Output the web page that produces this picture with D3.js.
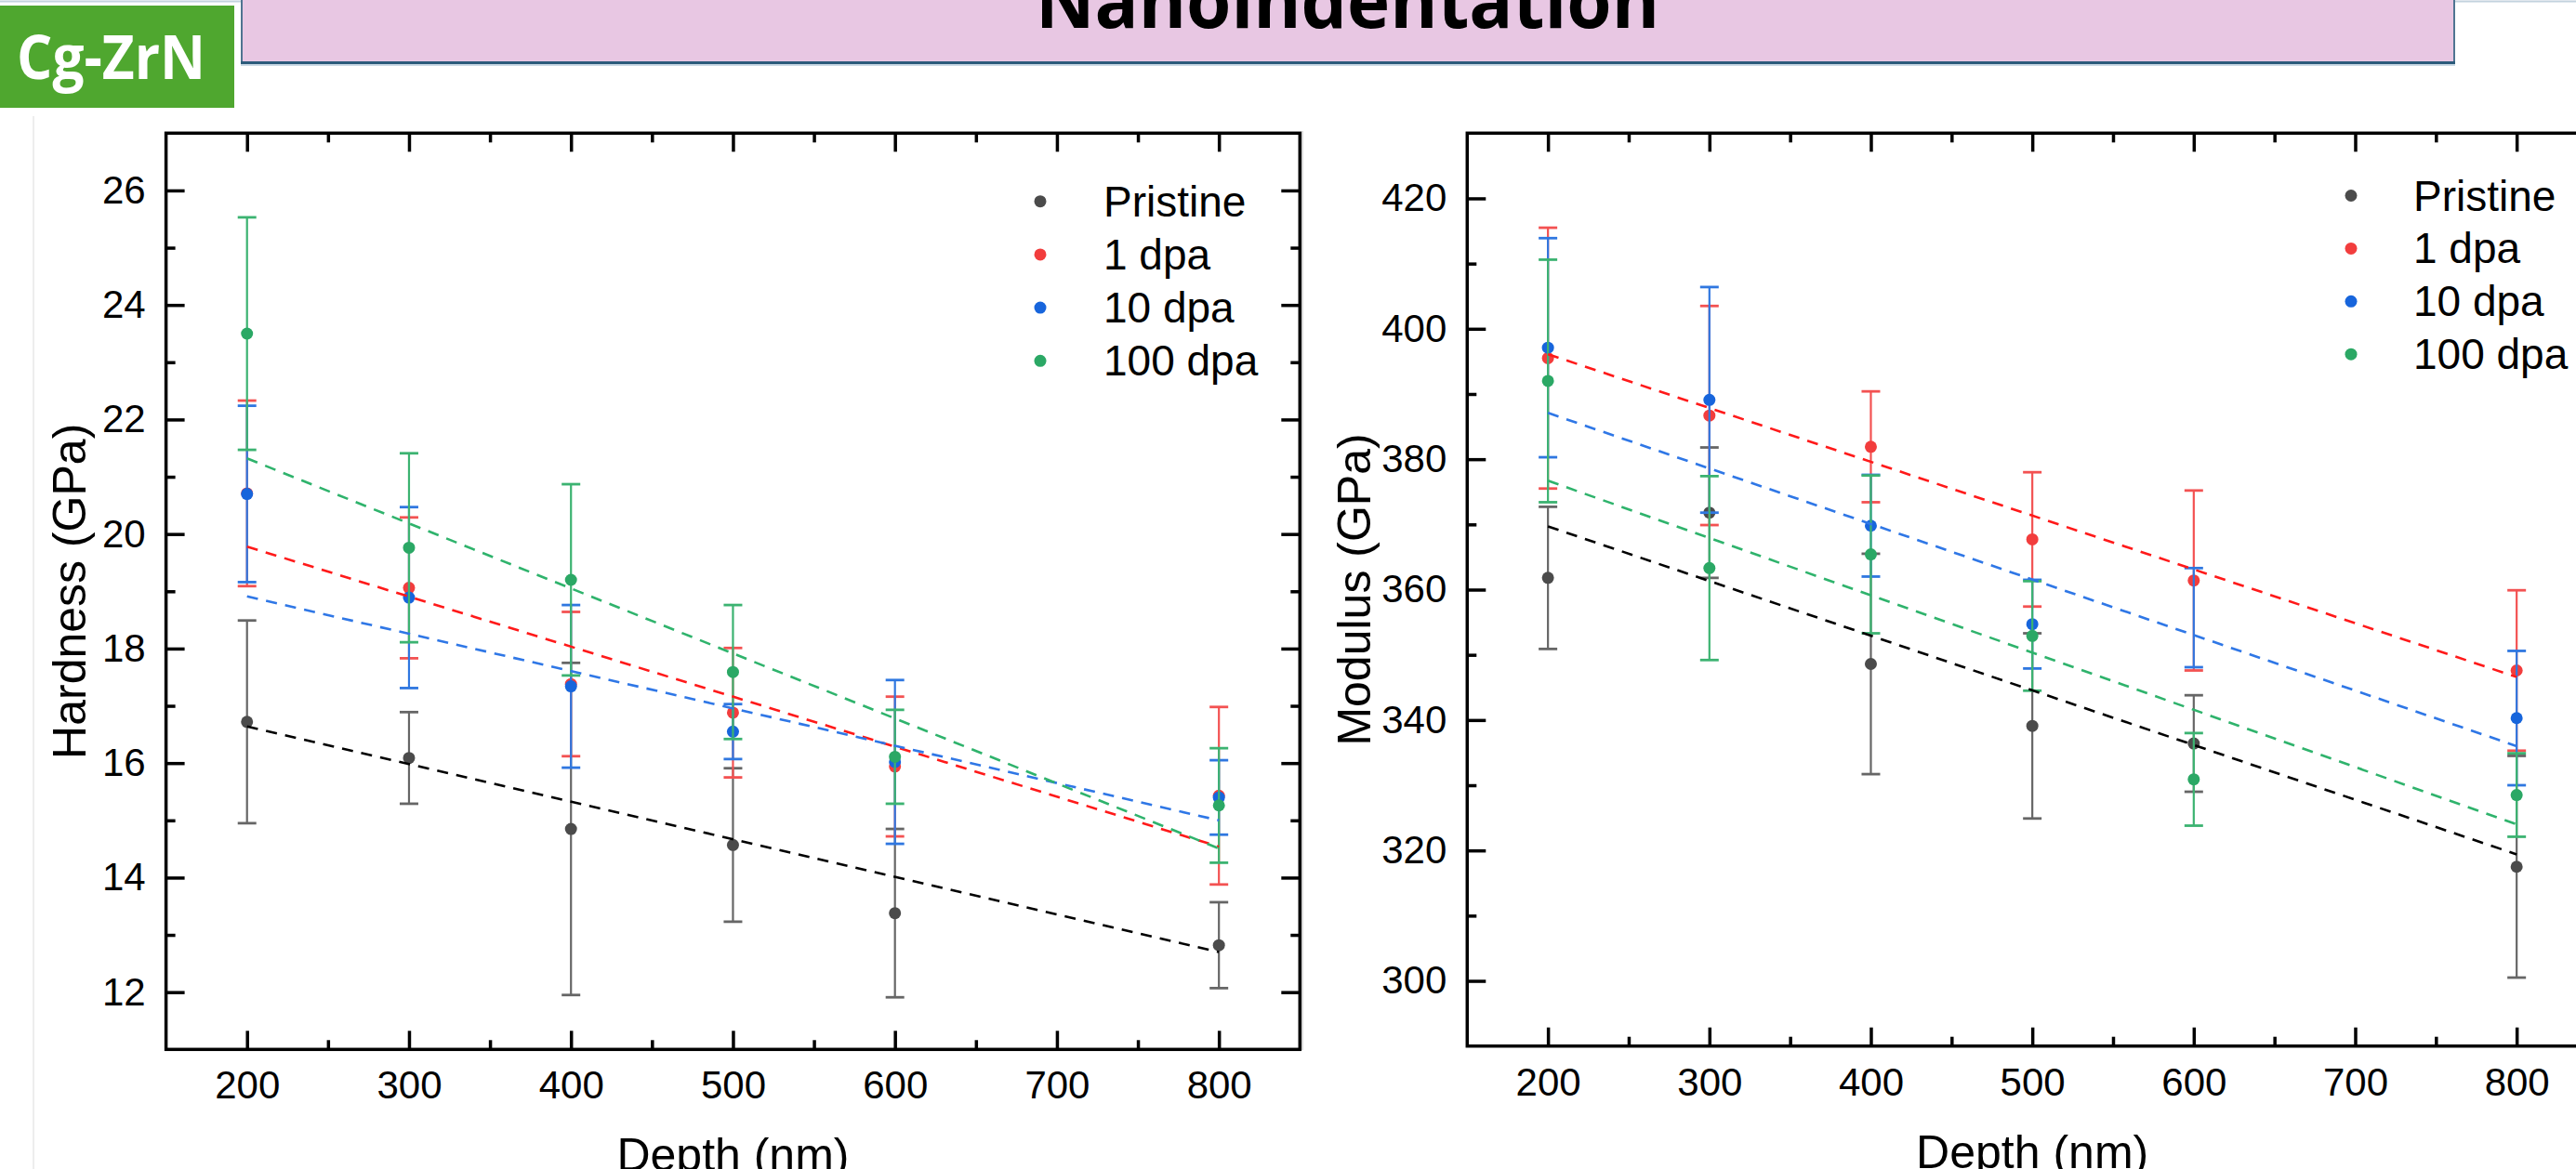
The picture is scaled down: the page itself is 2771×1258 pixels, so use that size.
<!DOCTYPE html>
<html>
<head>
<meta charset="utf-8">
<script src="https://cdn.jsdelivr.net/npm/d3@7"></script>
<style>
  html, body { margin: 0; padding: 0; background: #fff; overflow: hidden; }
  svg { display: block; }
</style>
</head>
<body>
<div id="chart"></div>
<script>
// data
const depths = [200, 300, 400, 500, 600, 800]
const seriesNames = ['Pristine', '1 dpa', '10 dpa', '100 dpa']

// one row per series, same order as seriesNames
const hardnessValues = [
  [16.72, 16.09, 14.85, 14.57, 13.38, 12.82],
  [20.71, 19.06, 17.38, 16.88, 15.94, 15.43],
  [20.70, 18.89, 17.34, 16.55, 16.02, 15.40],
  [23.50, 19.76, 19.20, 17.59, 16.11, 15.26]
]
const hardnessErrors = [
  [1.77, 0.80, 2.90, 1.34, 1.47, 0.75],
  [1.62, 1.23, 1.26, 1.13, 1.22, 1.55],
  [1.54, 1.58, 1.42, 0.48, 1.43, 0.65],
  [2.03, 1.65, 1.67, 1.17, 0.82, 1.00]
]
const modulusValues = [
  [361.8, 371.8, 348.6, 339.1, 336.4, 317.5],
  [395.5, 386.7, 381.9, 367.7, 361.4, 347.6],
  [397.1, 389.1, 369.8, 354.7, 355.7, 340.3],
  [392.0, 363.3, 365.4, 352.9, 330.9, 328.5]
]
const modulusErrors = [
  [10.9, 10.0, 16.9, 14.2, 7.4, 17.0],
  [20.0, 16.8, 8.5, 10.3, 13.8, 12.3],
  [16.8, 17.3, 7.8, 6.8, 7.6, 10.3],
  [18.6, 14.1, 12.1, 8.4, 7.1, 6.4]
]
// linear fits, value at fitEnds[0] and fitEnds[1]
const fitEnds = [200, 800]
const hardnessFit = [[16.64, 12.70], [19.78, 14.54], [18.91, 15.00], [21.32, 14.51]]
const modulusFit = [[369.7, 319.4], [396.1, 346.6], [387.1, 336.0], [376.7, 324.0]]
// symbol missing in the original: [series index, depth index]
const modulusHidden = [[2, 4]]

// ticks
const xTicks = [200, 300, 400, 500, 600, 700, 800]
const xMinorTicks = [250, 350, 450, 550, 650, 750]
const hardnessTicks = [12, 14, 16, 18, 20, 22, 24, 26]
const hardnessMinorTicks = [13, 15, 17, 19, 21, 23, 25]
const modulusTicks = [300, 320, 340, 360, 380, 400, 420]
const modulusMinorTicks = [310, 330, 350, 370, 390, 410]

// styles
const pointColors = ['#4b4b4b', '#f23d3d', '#1765dc', '#2ba865']
const barColors = ['#666666', '#f35252', '#2f77e0', '#3cb371']
const fitColors = ['#000000', '#ff1a1a', '#2f77e6', '#2fb36c']
const font = "'Liberation Sans', Arial, sans-serif"

const width = 2771
const height = 1258

const svg = d3.select('#chart')
  .append('svg')
  .attr('width', width)
  .attr('height', height)

// slide decoration
svg.append('line')
  .attr('x1', 0).attr('x2', width).attr('y1', 1.5).attr('y2', 1.5)
  .attr('stroke', '#c3d2de').attr('stroke-width', 2)
svg.append('line')
  .attr('x1', 36).attr('x2', 36).attr('y1', 125).attr('y2', height)
  .attr('stroke', '#ededed').attr('stroke-width', 2)
svg.append('line')
  .attr('x1', 1401).attr('x2', 1401).attr('y1', 141).attr('y2', 1130)
  .attr('stroke', '#dcdcdc').attr('stroke-width', 2)

svg.append('rect')
  .attr('x', 0).attr('y', 6).attr('width', 252).attr('height', 110)
  .attr('fill', '#4fa72f')
svg.append('text')
  .attr('x', 18).attr('y', 85)
  .attr('font-family', "'Open Sans', 'Noto Sans', sans-serif")
  .attr('font-weight', 700)
  .attr('font-size', 67)
  .attr('textLength', 203)
  .attr('lengthAdjust', 'spacingAndGlyphs')
  .attr('fill', '#fff')
  .text('Cg-ZrN')

svg.append('rect')
  .attr('x', 260).attr('y', -10).attr('width', 2380).attr('height', 77)
  .attr('fill', '#e8c7e3')
  .attr('stroke', '#4f7491').attr('stroke-width', 2)
svg.append('line')
  .attr('x1', 259).attr('x2', 2641).attr('y1', 67.5).attr('y2', 67.5)
  .attr('stroke', '#2c5b7b').attr('stroke-width', 3)
svg.append('line')
  .attr('x1', 259).attr('x2', 2641).attr('y1', 70).attr('y2', 70)
  .attr('stroke', '#b9cddb').attr('stroke-width', 1.5)
svg.append('text')
  .attr('x', 1114).attr('y', 30)
  .attr('font-family', "'Open Sans', 'Noto Sans', sans-serif")
  .attr('font-weight', 700)
  .attr('font-size', 80)
  .attr('textLength', 671)
  .attr('lengthAdjust', 'spacingAndGlyphs')
  .attr('fill', '#000')
  .text('Nanoindentation')

const panels = [
  {
    left: 178.6, right: 1398.3, top: 143.3, bottom: 1129.3,
    yDomain: [11, 27],
    values: hardnessValues, errors: hardnessErrors, fits: hardnessFit, hidden: [],
    ticks: hardnessTicks, minorTicks: hardnessMinorTicks,
    title: 'Hardness (GPa)', titleX: 92,
    legend: { x: 1119, y: 216.7, tx: 1187, step: 57.2 }
  },
  {
    left: 1578.3, right: 2794, top: 143.3, bottom: 1125.7,
    yDomain: [290, 430],
    values: modulusValues, errors: modulusErrors, fits: modulusFit, hidden: modulusHidden,
    ticks: modulusTicks, minorTicks: modulusMinorTicks,
    title: 'Modulus (GPa)', titleX: 1474,
    legend: { x: 2529, y: 210.5, tx: 2596, step: 56.9 }
  }
]

function styleAxis (g, withText) {
  g.select('.domain').remove()
  g.selectAll('.tick line').attr('stroke', '#000').attr('stroke-width', 3.5)
  g.attr('font-family', font).attr('font-size', 42)
  g.selectAll('.tick text').attr('fill', '#000')
  if (!withText) g.selectAll('.tick text').remove()
}

function drawPanel (p) {
  const x = d3.scaleLinear().domain([150, 850]).range([p.left, p.right])
  const y = d3.scaleLinear().domain(p.yDomain).range([p.bottom, p.top])
  const g = svg.append('g')

  // axes, ticks pointing inward on all four sides
  g.append('g')
    .attr('transform', `translate(0,${p.bottom})`)
    .call(d3.axisBottom(x).tickValues(xTicks).tickSize(-20).tickSizeOuter(0).tickPadding(23))
    .call(s => styleAxis(s, true))
  g.append('g')
    .attr('transform', `translate(0,${p.bottom})`)
    .call(d3.axisBottom(x).tickValues(xMinorTicks).tickSize(-10).tickSizeOuter(0).tickFormat(''))
    .call(s => styleAxis(s, false))
  g.append('g')
    .attr('transform', `translate(0,${p.top})`)
    .call(d3.axisTop(x).tickValues(xTicks).tickSize(-20).tickSizeOuter(0))
    .call(s => styleAxis(s, false))
  g.append('g')
    .attr('transform', `translate(0,${p.top})`)
    .call(d3.axisTop(x).tickValues(xMinorTicks).tickSize(-10).tickSizeOuter(0))
    .call(s => styleAxis(s, false))
  g.append('g')
    .attr('transform', `translate(${p.left},0)`)
    .call(d3.axisLeft(y).tickValues(p.ticks).tickSize(-20).tickSizeOuter(0).tickPadding(22))
    .call(s => styleAxis(s, true))
  g.append('g')
    .attr('transform', `translate(${p.left},0)`)
    .call(d3.axisLeft(y).tickValues(p.minorTicks).tickSize(-10).tickSizeOuter(0))
    .call(s => styleAxis(s, false))
  g.append('g')
    .attr('transform', `translate(${p.right},0)`)
    .call(d3.axisRight(y).tickValues(p.ticks).tickSize(-20).tickSizeOuter(0))
    .call(s => styleAxis(s, false))
  g.append('g')
    .attr('transform', `translate(${p.right},0)`)
    .call(d3.axisRight(y).tickValues(p.minorTicks).tickSize(-10).tickSizeOuter(0))
    .call(s => styleAxis(s, false))

  g.append('rect')
    .attr('x', p.left).attr('y', p.top)
    .attr('width', p.right - p.left).attr('height', p.bottom - p.top)
    .attr('fill', 'none').attr('stroke', '#000').attr('stroke-width', 3.5)

  // titles
  g.append('text')
    .attr('transform', `translate(${p.titleX},${(p.top + p.bottom) / 2}) rotate(-90)`)
    .attr('text-anchor', 'middle')
    .attr('font-family', font).attr('font-size', 50)
    .text(p.title)
  g.append('text')
    .attr('x', x(500)).attr('y', p.bottom + 131)
    .attr('text-anchor', 'middle')
    .attr('font-family', font).attr('font-size', 50)
    .text('Depth (nm)')

  // error bars and symbols, later series on top
  seriesNames.forEach((name, si) => {
    const rows = depths.map((d, di) => ({
      d, v: p.values[si][di], e: p.errors[si][di],
      hide: p.hidden.some(h => h[0] === si && h[1] === di)
    }))
    const sg = g.append('g').attr('class', 'series')
    const bars = sg.selectAll('g.bar').data(rows).enter().append('g').attr('class', 'bar')
      .attr('stroke', barColors[si]).attr('stroke-width', 2.2)
    bars.append('line')
      .attr('x1', r => x(r.d)).attr('x2', r => x(r.d))
      .attr('y1', r => y(r.v - r.e)).attr('y2', r => y(r.v + r.e))
    bars.append('line')
      .attr('x1', r => x(r.d) - 10).attr('x2', r => x(r.d) + 10)
      .attr('y1', r => y(r.v + r.e)).attr('y2', r => y(r.v + r.e))
      .attr('stroke-width', 2.8)
    bars.append('line')
      .attr('x1', r => x(r.d) - 10).attr('x2', r => x(r.d) + 10)
      .attr('y1', r => y(r.v - r.e)).attr('y2', r => y(r.v - r.e))
      .attr('stroke-width', 2.8)
    sg.selectAll('circle').data(rows.filter(r => !r.hide)).enter().append('circle')
      .attr('cx', r => x(r.d)).attr('cy', r => y(r.v)).attr('r', 6.5)
      .attr('fill', pointColors[si])
  })

  // dashed linear fits
  seriesNames.forEach((name, si) => {
    g.append('path')
      .datum(fitEnds.map((d, i) => [d, p.fits[si][i]]))
      .attr('d', d3.line().x(q => x(q[0])).y(q => y(q[1])))
      .attr('fill', 'none')
      .attr('stroke', fitColors[si])
      .attr('stroke-width', 2.6)
      .attr('stroke-dasharray', '12 9')
  })

  // legend
  const lg = g.append('g')
  seriesNames.forEach((name, si) => {
    const ly = p.legend.y + si * p.legend.step
    lg.append('circle')
      .attr('cx', p.legend.x).attr('cy', ly).attr('r', 6.5)
      .attr('fill', pointColors[si])
    lg.append('text')
      .attr('x', p.legend.tx).attr('y', ly + 16)
      .attr('font-family', font).attr('font-size', 46)
      .text(name)
  })
}

panels.forEach(drawPanel)
</script>
</body>
</html>
